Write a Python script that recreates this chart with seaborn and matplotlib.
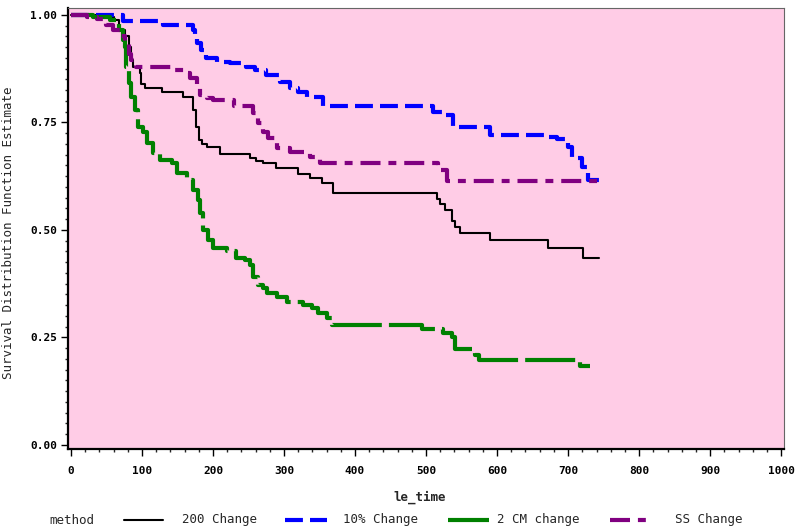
import matplotlib
matplotlib.use("Agg")
import matplotlib.pyplot as plt
from matplotlib.lines import Line2D
import pandas as pd
import seaborn as sns

# --------------------------
# Data (Kaplan-Meier step points)
# --------------------------
time_200 = [0, 57, 60, 67, 76, 81, 85, 88, 97, 99, 104, 128, 158, 172, 176, 180, 185, 191,
            210, 252, 261, 271, 288, 320, 337, 353, 369, 515, 520, 527, 536, 541, 548,
            590, 672, 721, 744]
surv_200 = [1.0, 0.995, 0.988, 0.965, 0.95, 0.926, 0.895, 0.88, 0.864, 0.84, 0.83, 0.822,
            0.81, 0.78, 0.74, 0.71, 0.70, 0.694, 0.677, 0.667, 0.66, 0.655, 0.645, 0.63,
            0.62, 0.61, 0.585, 0.571, 0.56, 0.547, 0.52, 0.508, 0.492, 0.477, 0.458,
            0.435, 0.435]

time_10 = [0, 73, 130, 172, 175, 178, 183, 190, 205, 224, 247, 259, 275, 294, 308, 320,
           332, 355, 510, 522, 538, 590, 672, 684, 700, 705, 719, 728, 745]
surv_10 = [1.0, 0.987, 0.977, 0.965, 0.95, 0.935, 0.919, 0.9, 0.891, 0.888, 0.88, 0.872,
           0.86, 0.845, 0.83, 0.822, 0.81, 0.788, 0.775, 0.767, 0.74, 0.721, 0.717,
           0.712, 0.694, 0.667, 0.647, 0.616, 0.616]

time_2cm = [0, 31, 55, 67, 73, 76, 78, 81, 85, 90, 95, 102, 107, 116, 125, 142, 149, 163,
            172, 179, 182, 186, 193, 200, 219, 233, 245, 252, 257, 264, 271, 276, 290,
            304, 327, 339, 348, 360, 367, 494, 524, 536, 541, 569, 574, 717, 731]
surv_2cm = [1.0, 0.995, 0.988, 0.965, 0.942, 0.926, 0.88, 0.841, 0.81, 0.779, 0.74, 0.728,
            0.702, 0.678, 0.663, 0.656, 0.632, 0.616, 0.593, 0.57, 0.539, 0.5, 0.477,
            0.457, 0.45, 0.434, 0.43, 0.419, 0.391, 0.372, 0.364, 0.353, 0.345, 0.333,
            0.326, 0.318, 0.306, 0.295, 0.279, 0.269, 0.261, 0.252, 0.223, 0.209, 0.198,
            0.184, 0.184]

time_ss = [0, 22, 36, 50, 59, 69, 76, 81, 85, 92, 144, 161, 168, 177, 182, 191, 200, 229,
           257, 264, 271, 278, 290, 308, 337, 351, 517, 529, 744]
surv_ss = [1.0, 0.995, 0.99, 0.977, 0.965, 0.95, 0.938, 0.91, 0.895, 0.88, 0.872, 0.864,
           0.853, 0.833, 0.814, 0.806, 0.802, 0.788, 0.772, 0.748, 0.729, 0.713, 0.69,
           0.682, 0.67, 0.655, 0.64, 0.614, 0.614]

methods = ["200 Change", "10% Change", "2 CM change", "SS Change"]
x_ticks = [0, 100, 200, 300, 400, 500, 600, 700, 800, 900, 1000]
y_ticks = [0.0, 0.25, 0.50, 0.75, 1.0]

# --------------------------
# Styles
# --------------------------
styles = {
    "200 Change": dict(color="black", lw=1.5, ls="-"),
    "10% Change": dict(color="#0000ff", lw=3.0, ls=(0, (4.3, 1.7))),
    "2 CM change": dict(color="#008000", lw=3.0, ls=(0, (12, 1.7))),
    "SS Change": dict(color="#800080", lw=3.0, ls=(0, (4.8, 1.9, 1.9, 1.9))),
}

frames = []
for name, t, s in zip(methods, [time_200, time_10, time_2cm, time_ss],
                      [surv_200, surv_10, surv_2cm, surv_ss]):
    frames.append(pd.DataFrame({"le_time": t, "survival": s, "method": name}))
df = pd.concat(frames, ignore_index=True)

sns.set_style("white")
plt.rcParams["font.family"] = ["DejaVu Sans Mono", "DejaVu Sans"]

fig = plt.figure(figsize=(8, 5.31), dpi=100)
ax = fig.add_axes([68 / 800, 1 - 449 / 531, 716 / 800, 441.5 / 531])
ax.set_facecolor("#ffcce6")

for name in methods:
    sub = df[df["method"] == name]
    st = styles[name]
    sns.lineplot(data=sub, x="le_time", y="survival", ax=ax, estimator=None,
                 errorbar=None, drawstyle="steps-post", color=st["color"],
                 lw=st["lw"], linestyle=st["ls"], legend=False)

ax.set_xlim(-4.2, 1004)
ax.set_ylim(-0.0093, 1.0174)
ax.set_xticks(x_ticks)
ax.set_xticklabels([str(v) for v in x_ticks])
ax.set_yticks(y_ticks)
ax.set_yticklabels([f"{v:.2f}" for v in y_ticks])
ax.set_xticks(range(0, 1001, 20), minor=True)
ax.set_yticks([i * 0.025 for i in range(41)], minor=True)
ax.tick_params(axis="both", which="major", direction="out", length=5, width=1,
               labelsize=8, colors="black")
ax.tick_params(axis="both", which="minor", direction="out", length=2.5, width=1)
ax.tick_params(axis="x", which="major", pad=7)
ax.tick_params(axis="y", which="major", pad=3)
ax.tick_params(left=True, bottom=True, which="both")
for lab in ax.get_xticklabels() + ax.get_yticklabels():
    lab.set_fontweight("bold")

for side in ["left", "bottom"]:
    ax.spines[side].set_color("black")
    ax.spines[side].set_linewidth(1.6)
for side in ["top", "right"]:
    ax.spines[side].set_color("#666666")
    ax.spines[side].set_linewidth(0.8)

ax.set_xlabel("")
ax.set_ylabel("Survival Distribution Function Estimate", fontsize=9)
ax.yaxis.set_label_coords(-0.074, 0.49)
fig.text(420 / 800, 1 - 497 / 531, "le_time", ha="center", va="center",
         fontsize=9, fontweight="bold")

# --------------------------
# Legend row at the bottom
# --------------------------
leg_y = 1 - 520 / 531
fig.text(49 / 800, leg_y, "method", ha="left", va="center", fontsize=9)
legend_pos = {
    "200 Change": (124, 163, 182),
    "10% Change": (285, 327, 343),
    "2 CM change": (448, 489, 497),
    "SS Change": (610, 647, 675),
}
for name in methods:
    x0, x1, xt = legend_pos[name]
    st = styles[name]
    fig.add_artist(Line2D([x0 / 800, x1 / 800], [leg_y, leg_y], transform=fig.transFigure,
                          color=st["color"], lw=st["lw"], linestyle=st["ls"]))
    fig.text(xt / 800, leg_y, name, ha="left", va="center", fontsize=9)

fig.savefig("out.png", dpi=100, facecolor="white")
plt.close(fig)
